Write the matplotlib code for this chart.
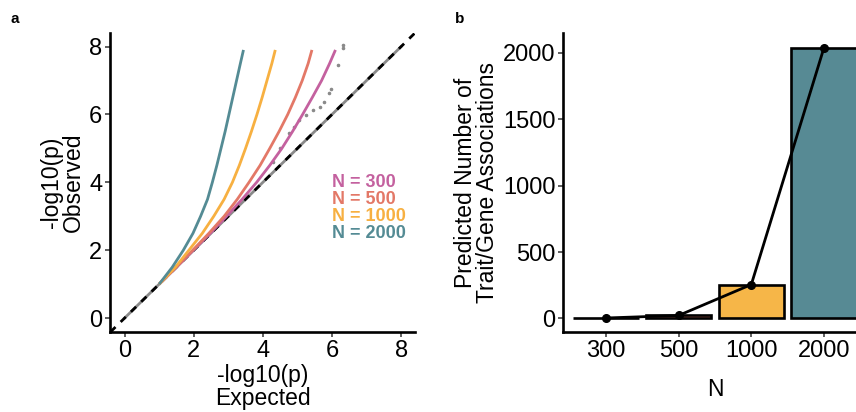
import matplotlib
matplotlib.use('Agg')
from matplotlib import pyplot as plt

plt.rcParams['font.family'] = ['Liberation Sans', 'DejaVu Sans']

qq_names = ['N = 300', 'N = 500', 'N = 1000', 'N = 2000']
qq_colors = ['#c4619f', '#e37867', '#f7b041', '#548b94']
obs_levels = [1.0, 1.5, 2.0, 2.5, 3.0, 3.5, 4.0, 4.5, 5.0, 5.5, 6.0, 6.5, 7.0, 7.5, 7.9]
exp_300 = [1.0, 1.5, 1.99, 2.48, 2.95, 3.4, 3.82, 4.2, 4.55, 4.86, 5.15, 5.43, 5.7, 5.93, 6.1]
exp_500 = [1.0, 1.49, 1.97, 2.44, 2.88, 3.26, 3.6, 3.92, 4.2, 4.47, 4.72, 4.94, 5.14, 5.31, 5.42]
exp_1000 = [1.0, 1.47, 1.86, 2.25, 2.58, 2.88, 3.12, 3.32, 3.5, 3.67, 3.83, 3.98, 4.12, 4.26, 4.36]
exp_2000 = [1.0, 1.38, 1.7, 1.98, 2.2, 2.4, 2.54, 2.67, 2.79, 2.91, 3.02, 3.13, 3.24, 3.35, 3.44]
qq_exp = [exp_300, exp_500, exp_1000, exp_2000]

# observed tail points (gray)
tail_x = [4.3, 4.5, 4.77, 4.91, 5.06, 5.25, 5.44, 5.64, 5.78, 5.9, 5.97, 6.18, 6.33, 6.33]
tail_y = [4.6, 5.0, 5.45, 5.64, 5.84, 5.99, 6.14, 6.23, 6.38, 6.63, 6.75, 7.46, 7.95, 8.05]

# panel b: predicted associations
n_labels = ['300', '500', '1000', '2000']
n_assoc = [3, 22, 255, 2040]
bar_colors = ['#c4619f', '#e37867', '#f6b648', '#578a94']

fontsize = 17
labelsize = 16.5
tick_color = '#333333'

fig = plt.figure(figsize=(8.56, 4.12), dpi=100)


def style_axes(ax):
    for side in ['top', 'right']:
        ax.spines[side].set_visible(False)
    for side in ['left', 'bottom']:
        ax.spines[side].set_linewidth(1.9)
        ax.spines[side].set_color('black')
    ax.tick_params(axis='both', labelsize=fontsize, length=3.5, width=1.1,
                   color=tick_color, labelcolor='black', pad=2)


# ---- panel a
ax1 = fig.add_axes([0.1285, 0.194, 0.3563, 0.726])
ax1.plot([0, 8], [0, 8], color='#8a8a8a', lw=2.0, zorder=2)
ax1.scatter(tail_x, tail_y, s=2.5, color='#8a8a8a', zorder=2)
ax1.axline((0, 0), (1, 1), color='black', lw=2.0, dashes=(2.6, 2.6), zorder=3)
for xs, c in zip(qq_exp, qq_colors):
    ax1.plot(xs, obs_levels, color=c, lw=2.0, zorder=4, solid_capstyle='butt',
             solid_joinstyle='round')
for i, (name, c) in enumerate(zip(qq_names, qq_colors)):
    ax1.text(6.0, 4.0 - 0.5 * i, name, color=c, fontsize=13, fontweight='bold',
             ha='left', va='center')
ax1.set_xlim(-0.42, 8.4)
ax1.set_ylim(-0.41, 8.4)
ax1.set_xticks([0, 2, 4, 6, 8])
ax1.set_yticks([0, 2, 4, 6, 8])
style_axes(ax1)
ax1.set_xlabel('-log10(p)\nExpected', fontsize=labelsize, linespacing=0.95, labelpad=2)
ax1.set_ylabel('-log10(p)\nObserved', fontsize=labelsize, linespacing=0.95, labelpad=3)

# ---- panel b
ax2 = fig.add_axes([0.6577, 0.194, 0.3559, 0.726])
pos = list(range(1, len(n_labels) + 1))
ax2.bar(pos, n_assoc, width=0.9, color=bar_colors, edgecolor='black', linewidth=1.9,
        zorder=2)
ax2.plot(pos, n_assoc, color='black', lw=2.0, marker='o', markersize=5.5, zorder=3)
ax2.set_xlim(0.41, 4.6)
ax2.set_ylim(-103, 2150)
ax2.set_xticks(pos)
ax2.set_xticklabels(n_labels)
ax2.set_yticks([0, 500, 1000, 1500, 2000])
style_axes(ax2)
ax2.set_xlabel('N', fontsize=labelsize, labelpad=12)
ax2.set_ylabel('Predicted Number of\nTrait/Gene Associations', fontsize=labelsize,
               linespacing=0.95, labelpad=3)

fig.text(0.012, 0.955, 'a', fontsize=11, fontweight='bold', va='center')
fig.text(0.531, 0.955, 'b', fontsize=11, fontweight='bold', va='center')

plt.savefig('out.png', dpi=100)
